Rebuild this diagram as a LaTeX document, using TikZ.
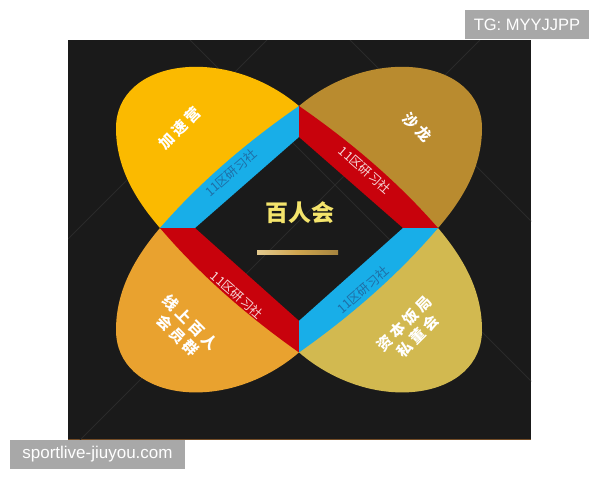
\documentclass[tikz,border=0pt]{standalone}
\usepackage{fontspec}
\setmainfont{Liberation Sans}
\newfontfamily\cjk{Noto Sans CJK SC}
\newfontfamily\cjkwide[LetterSpace=22]{Noto Sans CJK SC}
\definecolor{bgdark}{HTML}{1A1A1A}
\definecolor{bgline}{HTML}{2A2A2A}
\definecolor{petalA}{HTML}{FBBA00}
\definecolor{petalB}{HTML}{B98B2F}
\definecolor{petalC}{HTML}{E9A22F}
\definecolor{petalD}{HTML}{D2B950}
\definecolor{bandblue}{HTML}{18AEE8}
\definecolor{bandred}{HTML}{C8020C}
\definecolor{bluetext}{HTML}{1F6EA6}
\definecolor{redtext}{HTML}{F5D9D9}
\definecolor{titleyellow}{HTML}{F4E46C}
\definecolor{lineend}{HTML}{E2C98E}
\definecolor{linemid}{HTML}{CFA54E}
\definecolor{wmgray}{HTML}{A8A8A8}

\begin{document}
\begin{tikzpicture}[x=1pt,y=-1pt,
  petaltext/.style={text=white,align=center,font=\cjkwide\bfseries\fontsize{15}{18}\selectfont},
  bandtext/.style={font=\cjk\fontsize{12.5}{14}\selectfont},
  wmbox/.style={fill=wmgray,text=white,inner sep=0pt,font=\fontsize{16.5}{18}\selectfont}]
\useasboundingbox (0,0) rectangle (600,480);
% dark board
\fill[bgdark] (68,40) rectangle (531,439);
\draw[brown!60!black,line width=1pt] (68,439) -- (531,439);
\begin{scope}
\clip (68,40) rectangle (531,439);
\draw[bgline,line width=0.8pt] (190,40) -- (590,440) (267,40) -- (-133,440)
  (350,40) -- (750,440) (480,40) -- (80,440);
\end{scope}
% four petals with their bands
\foreach \sx/\sy/\pc/\bc in {1/1/petalA/bandblue,-1/1/petalB/bandred,1/-1.02/petalC/bandred,-1/-1.02/petalD/bandblue}{
  \begin{scope}[shift={(299,228)},xscale=\sx,yscale=\sy]
    \fill[\pc] (-139,0) .. controls (-165,-30) and (-183,-62) .. (-183,-100)
      .. controls (-183,-168) and (-75,-185) .. (0,-122) -- cycle;
    \fill[\bc] (-139,0) .. controls (-99,-46) and (-52,-86) .. (0,-122)
      -- (0,-91) -- (-104,0) -- cycle;
  \end{scope}
}
% band labels
\node[bandtext,text=bluetext,rotate=41] (bandA) at (231,173) {11区研习社};
\node[bandtext,text=redtext,rotate=-41] (bandB) at (365,170) {11区研习社};
\node[bandtext,text=redtext,rotate=-41] (bandC) at (237,295) {11区研习社};
\node[bandtext,text=bluetext,rotate=41] (bandD) at (363,290) {11区研习社};
% petal labels
\node[petaltext,rotate=45] (camp) at (180,128) {加速营};
\node[petaltext,rotate=-45] (salon) at (417,127) {沙龙};
\node[petaltext,rotate=-45] (online) at (184,329) {线上百人\\会员群};
\node[petaltext,rotate=45] (board) at (411,330) {资本饭局\\私董会};
% centre
\node[font=\cjk\bfseries\fontsize{23}{26}\selectfont,text=titleyellow] (title) at (300,213) {百人会};
\shade[left color=lineend,right color=linemid!80!black,middle color=linemid] (257,250) rectangle (338,254);
% watermarks
\node[wmbox,minimum width=124pt,minimum height=29pt] (tg) at (527,24.5) {TG: MYYJJPP};
\node[wmbox,minimum width=175pt,minimum height=29pt,font=\fontsize{17}{18}\selectfont] (site) at (97.5,454.5) {sportlive-jiuyou.com};
\end{tikzpicture}
\end{document}
